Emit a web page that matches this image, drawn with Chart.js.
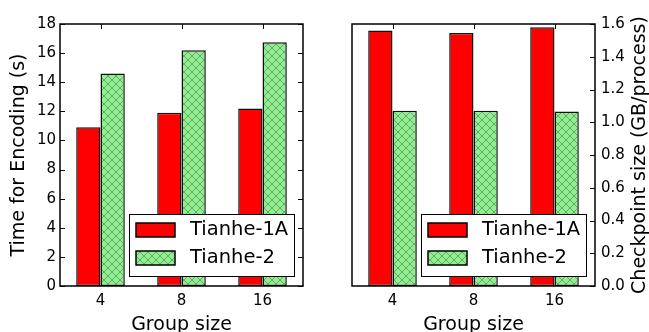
<!DOCTYPE html>
<html>
<head>
<meta charset="utf-8">
<script src="https://cdn.jsdelivr.net/npm/chart.js@4.4.1/dist/chart.umd.min.js"></script>
<style>
html, body { margin: 0; padding: 0; background: #fff; overflow: hidden; }
#wrap { position: relative; width: 649px; height: 332px; overflow: hidden; }
#EncChart { position: absolute; left: 0; top: 0; }
#CkptChart { position: absolute; left: 330px; top: 0; }
</style>
</head>
<body>
<div id="wrap">
    <canvas id="EncChart" width="330" height="345"></canvas>
    <canvas id="CkptChart" width="319" height="345"></canvas>
</div>
<script>
const groups = ['4', '8', '16'];
const seriesNames = ['Tianhe-1A', 'Tianhe-2'];

const encTianhe1A = [10.9, 11.9, 12.2];
const encTianhe2 = [14.6, 16.2, 16.75];

const ckptTianhe1A = [1.56, 1.545, 1.58];
const ckptTianhe2 = [1.07, 1.07, 1.065];

const encTicks = [0, 2, 4, 6, 8, 10, 12, 14, 16, 18];
const ckptTicks = [0.0, 0.2, 0.4, 0.6, 0.8, 1.0, 1.2, 1.4, 1.6];

const FONT = '"DejaVu Sans", sans-serif';

function makeHatch(ctx) {
    const s = 8;
    const tile = document.createElement('canvas');
    tile.width = s;
    tile.height = s;
    const g = tile.getContext('2d');
    g.fillStyle = '#94ec94';
    g.fillRect(0, 0, s, s);
    g.strokeStyle = 'rgba(50,140,50,0.6)';
    g.lineWidth = 1;
    g.beginPath();
    g.moveTo(0, 0); g.lineTo(s, s);
    g.moveTo(0, s); g.lineTo(s, 0);
    g.stroke();
    return ctx.createPattern(tile, 'repeat');
}

// frame around the plot + inward tick marks (matplotlib classic look)
const frame = {
    id: 'frame',
    beforeDatasetsDraw(chart) {
        const { ctx, chartArea } = chart;
        const x = chart.scales.x;
        ctx.save();
        ctx.strokeStyle = '#000';
        ctx.lineWidth = 1;
        x.ticks.forEach((t, i) => {
            const px = Math.round(x.getPixelForTick(i)) + 0.5;
            ctx.beginPath();
            ctx.moveTo(px, chartArea.bottom);
            ctx.lineTo(px, chartArea.bottom - 5);
            ctx.stroke();
        });
        ctx.restore();
    },
    afterDatasetsDraw(chart, args, opts) {
        const { ctx, chartArea } = chart;
        const x = chart.scales.x;
        const y = chart.scales.y;
        ctx.save();
        ctx.strokeStyle = '#000';
        ctx.lineWidth = 1;
        x.ticks.forEach((t, i) => {
            const px = Math.round(x.getPixelForTick(i)) + 0.5;
            ctx.beginPath();
            ctx.moveTo(px, chartArea.top);
            ctx.lineTo(px, chartArea.top + 5);
            ctx.stroke();
        });
        y.ticks.forEach((t) => {
            const py = Math.round(y.getPixelForValue(t.value)) + 0.5;
            ctx.beginPath();
            if (opts.left) {
                ctx.moveTo(chartArea.left, py);
                ctx.lineTo(chartArea.left + 5, py);
            }
            if (opts.right) {
                ctx.moveTo(chartArea.right, py);
                ctx.lineTo(chartArea.right - 5, py);
            }
            ctx.stroke();
        });
        ctx.lineWidth = 1.5;
        ctx.strokeRect(chartArea.left, chartArea.top,
            chartArea.right - chartArea.left, chartArea.bottom - chartArea.top);
        if (opts.sideTitle) {
            ctx.fillStyle = '#000';
            ctx.font = '19px ' + FONT;
            ctx.textAlign = 'center';
            ctx.textBaseline = 'middle';
            ctx.translate(opts.sideTitleX, (chartArea.top + chartArea.bottom) / 2);
            ctx.rotate(-Math.PI / 2);
            ctx.fillText(opts.sideTitle, 0, 0);
        }
        ctx.restore();
    }
};

// legend box in the lower right of the plot area
const boxLegend = {
    id: 'boxLegend',
    afterDraw(chart) {
        const { ctx, chartArea } = chart;
        const w = 165, h = 62;
        const x = Math.round(chartArea.right - 9 - w);
        const y = Math.round(chartArea.bottom - 10 - h);
        ctx.save();
        ctx.fillStyle = '#fff';
        ctx.fillRect(x, y, w, h);
        ctx.strokeStyle = '#000';
        ctx.lineWidth = 1;
        ctx.strokeRect(x + 0.5, y + 0.5, w, h);
        chart.data.datasets.forEach((ds, i) => {
            const cy = y + 16 + i * 28;
            ctx.fillStyle = ds.backgroundColor;
            ctx.fillRect(x + 7, cy - 7, 39, 14);
            ctx.lineWidth = 1.5;
            ctx.strokeRect(x + 7, cy - 7, 39, 14);
            ctx.fillStyle = '#000';
            ctx.font = '19.5px ' + FONT;
            ctx.textBaseline = 'middle';
            ctx.fillText(ds.label, x + 61, cy);
        });
        ctx.restore();
    }
};

function buildConfig(ctx, d1, d2, tickVals, opts) {
    return {
        type: 'bar',
        data: {
            labels: groups,
            datasets: [{
                label: seriesNames[0],
                data: d1,
                backgroundColor: '#ff0000',
                borderColor: '#111',
                borderWidth: 1.5,
                borderSkipped: false
            }, {
                label: seriesNames[1],
                data: d2,
                backgroundColor: makeHatch(ctx),
                borderColor: '#111',
                borderWidth: 1.5,
                borderSkipped: false
            }]
        },
        options: {
            responsive: false,
            animation: false,
            devicePixelRatio: 1,
            layout: { padding: opts.padding },
            datasets: { bar: { categoryPercentage: 0.6, barPercentage: 1.0 } },
            scales: {
                x: {
                    grid: { display: false, drawTicks: false },
                    border: { display: false },
                    ticks: { color: '#000', padding: 6, font: { family: FONT, size: 15 } },
                    title: {
                        display: true,
                        text: 'Group size',
                        color: '#000',
                        font: { family: FONT, size: 19 },
                        padding: { top: 0, bottom: 9 }
                    },
                    afterFit(scale) { scale.height = 59; }
                },
                y: {
                    position: opts.yPos,
                    min: tickVals[0],
                    max: tickVals[tickVals.length - 1],
                    grid: { display: false, drawTicks: false },
                    border: { display: false },
                    afterBuildTicks(scale) {
                        scale.ticks = tickVals.map(v => ({ value: v }));
                    },
                    ticks: {
                        color: '#000',
                        padding: opts.tickPad,
                        font: { family: FONT, size: 15 },
                        callback: opts.fmt
                    },
                    title: opts.yTitle,
                    afterFit(scale) { scale.width = opts.yWidth; }
                }
            },
            plugins: {
                legend: { display: false },
                tooltip: { enabled: false },
                frame: opts.frame
            }
        },
        plugins: [frame, boxLegend]
    };
}

const encctx = document.getElementById('EncChart');
const ckptctx = document.getElementById('CkptChart');

new Chart(encctx, buildConfig(encctx.getContext('2d'), encTianhe1A, encTianhe2, encTicks, {
    padding: { top: 24, right: 27, left: 0, bottom: 0 },
    yPos: 'left',
    yWidth: 60,
    tickPad: 4,
    fmt: v => String(v),
    yTitle: {
        display: true,
        text: 'Time for Encoding (s)',
        color: '#000',
        font: { family: FONT, size: 19 },
        padding: { top: 8, bottom: 0 }
    },
    frame: { left: true, right: true }
}));

new Chart(ckptctx, buildConfig(ckptctx.getContext('2d'), ckptTianhe1A, ckptTianhe2, ckptTicks, {
    padding: { top: 24, right: 0, left: 22, bottom: 0 },
    yPos: 'right',
    yWidth: 54,
    tickPad: 6,
    fmt: v => v.toFixed(1),
    yTitle: { display: false },
    frame: { left: false, right: true, sideTitle: 'Checkpoint size (GB/process)', sideTitleX: 310 }
}));
</script>
</body>
</html>
